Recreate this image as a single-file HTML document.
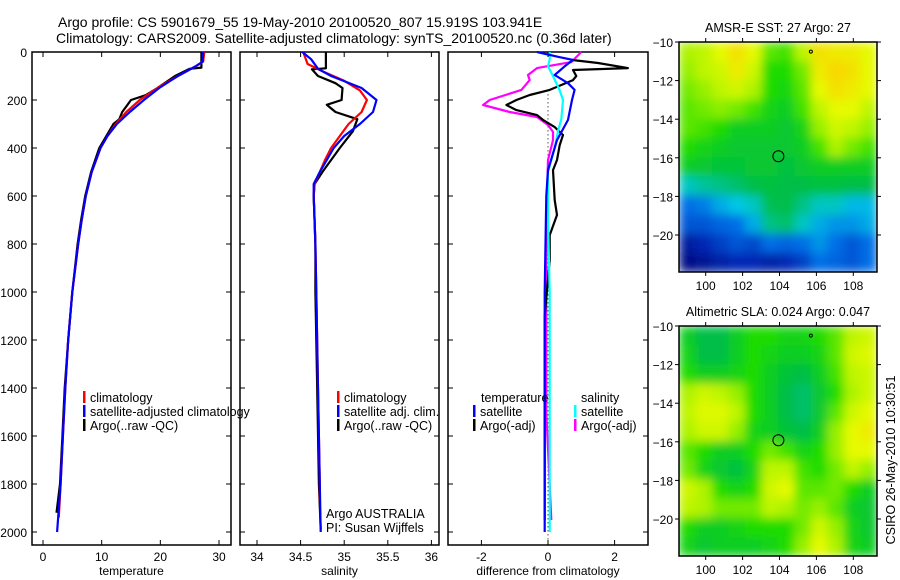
<!DOCTYPE html>
<html><head><meta charset="utf-8"><style>
body{margin:0;background:#fff;}
svg{display:block;font-family:"Liberation Sans",sans-serif;}
</style></head><body>
<svg id="fig" width="900" height="580" viewBox="0 0 900 580" xmlns="http://www.w3.org/2000/svg">
<defs>
<filter id="sm" x="0" y="0" width="1" height="1"><feGaussianBlur stdDeviation="5" edgeMode="duplicate"/></filter>
<clipPath id="c1"><rect x="679" y="42" width="198" height="230"/></clipPath>
<clipPath id="c2"><rect x="679" y="326" width="198" height="230"/></clipPath>
</defs>
<text x="58" y="27" font-size="14">Argo profile: CS 5901679_55 19-May-2010 20100520_807 15.919S 103.941E</text>
<text x="56" y="43" font-size="14">Climatology: CARS2009. Satellite-adjusted climatology: synTS_20100520.nc (0.36d later)</text>
<g id="g"></g>
</svg>
<script>
// ---- data ----
const tClimD=[0,40,60,100,150,200,250,300,350,400,500,600,700,800,1000,1200,1400,1600,1800,1940];
const tClimV=[27.5,27.3,26,23,19.5,16.5,14.2,12.4,11,9.8,8.3,7.3,6.6,6.0,5.0,4.3,3.8,3.4,3.0,2.7];
const tSatD=[0,40,60,100,150,200,250,300,350,400,500,600,700,800,1000,1200,1400,1600,1800,2000];
const tSatV=[27.3,27.2,26,23,19.8,17.2,14.8,12.6,11,9.8,8.3,7.3,6.6,6.0,5.0,4.3,3.8,3.4,3.0,2.4];
const tArgoD=[0,65,70,100,150,180,200,250,280,300,400,500,600,700,800,1000,1200,1400,1600,1800,1920];
const tArgoV=[27.0,27.0,25,22.5,19.5,17.5,15,13.5,13,12,9.6,8.2,7.2,6.5,5.9,5.0,4.3,3.7,3.3,2.9,2.3];
const sClimD=[0,50,80,120,160,200,250,300,350,400,450,500,550,600,700,800,1000,1400,1800,1870];
const sClimV=[34.53,34.58,34.75,35.0,35.18,35.26,35.2,35.05,34.95,34.85,34.78,34.72,34.66,34.65,34.66,34.67,34.68,34.7,34.72,34.72];
const sSatD=[0,30,70,100,150,200,250,300,350,400,450,500,550,600,800,1000,1400,1800,2000];
const sSatV=[34.52,34.62,34.7,34.85,35.2,35.37,35.33,35.18,35.0,34.88,34.8,34.72,34.65,34.65,34.67,34.68,34.7,34.72,34.73];
const sArgoD=[0,68,72,100,130,150,200,220,235,250,280,330,400,500,550,600,800,1000,1400,1800,1990];
const sArgoV=[34.79,34.79,34.63,34.7,34.9,34.98,34.97,34.8,34.85,34.9,35.15,35.1,34.95,34.75,34.66,34.65,34.67,34.67,34.69,34.71,34.73];
const dTSatD=[0,20,33,60,96,130,158,200,283,367,492,600,1000,1500,2000];
const dTSatV=[-0.33,0.3,0.75,0.5,0.2,0.6,0.8,0.72,0.6,0.27,0,-0.05,-0.1,-0.1,-0.1];
const dSSatD=[0,30,60,100,160,200,280,330,400,500,700,1000,2000];
const dSSatV=[0.05,0.05,0,0.15,0.35,0.45,0.4,0.3,0.2,0,0,0.05,0.05];
const dSArgoD=[0,42,67,96,117,158,200,221,250,271,304,333,367,450,700,1000,1500,1950];
const dSArgoV=[1.0,0.7,-0.33,-0.6,-0.55,-0.8,-1.75,-1.95,-1.15,-0.33,0,0.15,0.15,0,-0.05,-0.05,-0.05,0.1];
const dTArgoD=[33,46,67,75,100,117,158,179,200,221,242,263,283,313,346,388,450,492,617,679,763,867,1100,1400,1950];
const dTArgoV=[0.7,1.5,2.4,0.75,0.85,0.75,0.05,-0.55,-0.95,-1.25,-0.95,-0.33,-0.15,0.2,0.45,0.35,0.27,0.15,0.2,0.27,0.05,0.05,-0.1,-0.1,-0.1];
const depthTicks=[0,200,400,600,800,1000,1200,1400,1600,1800,2000];
const tempTicks=[0,10,20,30];
const salTicks=[34,34.5,35,35.5,36];
const diffTicks=[-2,0,2];
const lonTicks=[100,102,104,106,108];
const latTicks=[-10,-12,-14,-16,-18,-20];
const sstGrid=[
[0.78,0.8,0.85,0.9,0.85,0.7,0.68,0.8,0.9,0.88,0.88,0.85],
[0.75,0.8,0.82,0.88,0.82,0.65,0.65,0.72,0.88,0.92,0.9,0.85],
[0.72,0.75,0.8,0.82,0.78,0.65,0.63,0.7,0.85,0.9,0.88,0.85],
[0.7,0.72,0.74,0.72,0.68,0.62,0.6,0.68,0.8,0.85,0.85,0.8],
[0.7,0.68,0.65,0.6,0.6,0.6,0.58,0.62,0.75,0.82,0.8,0.75],
[0.65,0.62,0.6,0.58,0.58,0.58,0.58,0.6,0.68,0.78,0.72,0.68],
[0.6,0.58,0.57,0.57,0.58,0.58,0.56,0.58,0.6,0.6,0.6,0.6],
[0.45,0.48,0.5,0.52,0.55,0.56,0.55,0.55,0.56,0.56,0.55,0.55],
[0.3,0.32,0.38,0.42,0.45,0.54,0.55,0.5,0.45,0.45,0.4,0.4],
[0.25,0.25,0.28,0.3,0.38,0.5,0.52,0.45,0.38,0.35,0.35,0.38],
[0.1,0.15,0.2,0.25,0.22,0.3,0.28,0.3,0.35,0.3,0.25,0.3],
[0.05,0.08,0.12,0.15,0.15,0.12,0.15,0.2,0.3,0.28,0.25,0.3]];
const slaGrid=[
[0.6,0.55,0.55,0.6,0.65,0.65,0.62,0.62,0.65,0.7,0.8,0.82],
[0.62,0.55,0.55,0.6,0.65,0.62,0.6,0.6,0.62,0.7,0.82,0.84],
[0.65,0.6,0.6,0.62,0.65,0.6,0.57,0.55,0.6,0.68,0.8,0.82],
[0.78,0.82,0.8,0.75,0.65,0.6,0.55,0.52,0.58,0.65,0.78,0.82],
[0.8,0.84,0.84,0.8,0.65,0.6,0.55,0.52,0.58,0.7,0.82,0.85],
[0.78,0.82,0.82,0.75,0.62,0.6,0.57,0.55,0.6,0.75,0.85,0.88],
[0.7,0.65,0.6,0.6,0.65,0.72,0.68,0.62,0.65,0.75,0.85,0.85],
[0.72,0.62,0.58,0.56,0.62,0.8,0.8,0.68,0.65,0.72,0.8,0.75],
[0.82,0.78,0.65,0.62,0.65,0.82,0.85,0.7,0.7,0.72,0.65,0.6],
[0.8,0.78,0.72,0.72,0.72,0.8,0.78,0.72,0.75,0.7,0.6,0.58],
[0.65,0.6,0.6,0.62,0.65,0.65,0.65,0.72,0.82,0.75,0.62,0.58],
[0.62,0.58,0.6,0.6,0.6,0.62,0.65,0.75,0.85,0.78,0.62,0.6]];

// ---- drawing ----
const NS='http://www.w3.org/2000/svg';
const G=document.getElementById('g');
function mk(tag,attrs,parent){const e=document.createElementNS(NS,tag);for(const k in attrs)e.setAttribute(k,attrs[k]);(parent||G).appendChild(e);return e;}
function txt(s,x,y,anchor,size,parent){const t=mk('text',{x:x,y:y,'text-anchor':anchor||'start','font-size':size||12},parent);t.textContent=s;return t;}
const yD=d=>52+d*0.24;
const xT=v=>43+v*5.867;
const xS=v=>257+(v-34)*87.2;
const xDf=v=>548+v*33.3;
function panel(x0,x1,name,xTicks,xf,xlab,showY){
  const r=mk('rect',{x:x0,y:52,width:x1-x0,height:493,fill:'none',stroke:'#000','stroke-width':1.5});
  
  
  depthTicks.forEach(d=>{mk('line',{x1:x0,x2:x0+5,y1:yD(d),y2:yD(d),stroke:'#000'});mk('line',{x1:x1-5,x2:x1,y1:yD(d),y2:yD(d),stroke:'#000'});
    if(showY){const t=txt(String(d),27,yD(d)+5,'end',12);}});
  xTicks.forEach(v=>{const x=xf(v);mk('line',{x1:x,x2:x,y1:545,y2:540,stroke:'#000'});mk('line',{x1:x,x2:x,y1:52,y2:57,stroke:'#000'});
    const t=txt(String(v),x,561,'middle',12);});
  const l=txt(xlab,(x0+x1)/2,575,'middle',12);
}
function line(D,V,xf,col,name,w){
  const p=D.map((d,i)=>xf(V[i]).toFixed(1)+','+yD(d).toFixed(1)).join(' ');
  const e=mk('polyline',{points:p,fill:'none',stroke:col,'stroke-width':w||2.2,'stroke-linejoin':'round'});
  
  
}
panel(32,231,'temperature-panel',tempTicks,xT,'temperature',true);
panel(240,439,'salinity-panel',salTicks,xS,'salinity',false);
panel(448,648,'difference-panel',diffTicks,xDf,'difference from climatology',false);
line(tArgoD,tArgoV,xT,'#000','temp-argo-line');
line(tClimD,tClimV,xT,'#f00','temp-climatology-line');
line(tSatD,tSatV,xT,'#00f','temp-satellite-line');
line(sArgoD,sArgoV,xS,'#000','sal-argo-line');
line(sClimD,sClimV,xS,'#f00','sal-climatology-line');
line(sSatD,sSatV,xS,'#00f','sal-satellite-line');
mk('line',{x1:548,x2:548,y1:yD(160),y2:541,stroke:'#000','stroke-dasharray':'1,3'});
line(dSArgoD,dSArgoV,xDf,'#f0f','diff-sal-argo-line');
line(dTArgoD,dTArgoV,xDf,'#000','diff-temp-argo-line');
line(dSSatD,dSSatV,xDf,'#0ff','diff-sal-satellite-line');
line(dTSatD,dTSatV,xDf,'#00f','diff-temp-satellite-line');
function leg(x,y,col,label,name){
  if(col){mk('rect',{x:x,y:y-11,width:2.5,height:12,fill:col});}
  const t=txt(label,x+7,y,'start',12.5);
  
  
}
leg(83,402,'#f00','climatology','legend-climatology');
leg(83,416,'#00f','satellite-adjusted climatology','legend-satellite-adjusted');
leg(83,430,'#000','Argo(..raw -QC)','legend-argo');
leg(337,402,'#f00','climatology','legend-sal-climatology');
leg(337,416,'#00f','satellite adj. clim.','legend-sal-satellite');
leg(337,430,'#000','Argo(..raw -QC)','legend-sal-argo');
leg(319,518,null,'Argo AUSTRALIA','argo-australia-label');
leg(319,532,null,'PI: Susan Wijffels','pi-label');
leg(474,402,null,'temperature','legend-temperature-header');
leg(473,416,'#00f','satellite','legend-diff-temp-satellite');
leg(473,430,'#000','Argo(-adj)','legend-diff-temp-argo');
leg(574,402,null,'salinity','legend-salinity-header');
leg(574,416,'#0ff','satellite','legend-diff-sal-satellite');
leg(574,430,'#f0f','Argo(-adj)','legend-diff-sal-argo');
// maps
const stops=[[0,[0,0,110]],[0.15,[0,40,180]],[0.3,[0,110,230]],[0.42,[0,200,230]],[0.55,[0,190,70]],[0.65,[30,220,0]],[0.75,[150,240,0]],[0.85,[230,250,0]],[0.95,[255,200,0]],[1,[255,170,0]]];
function cmap(v){for(let i=1;i<stops.length;i++){if(v<=stops[i][0]){const a=stops[i-1],b=stops[i],t=(v-a[0])/(b[0]-a[0]);return 'rgb('+a[1].map((c,k)=>Math.round(c+(b[1][k]-c)*t)).join(',')+')';}}return 'rgb(255,170,0)';}
function map(top,grid,name,title,clip){
  const x0=679,x1=877,y1=top+230;
  const lonX=l=>705.7+(l-100)*18.45, latY=l=>top+(-10-l)*19.3;
  const rows=grid.length,cols=grid[0].length,cw=(x1-x0)/cols,ch=(y1-top)/rows;
  const cg=mk('g',{'clip-path':'url(#'+clip+')'});
  const bg=mk('g',{filter:'url(#sm)'},cg);
  grid.forEach((row,r)=>row.forEach((v,c)=>{const e=mk('rect',{x:x0+c*cw,y:top+r*ch,width:cw+0.6,height:ch+0.6,fill:cmap(v)},bg);
    
    }));
  const f=mk('rect',{x:x0,y:top,width:x1-x0,height:230,fill:'none',stroke:'#000','stroke-width':1.5});
  
  
  lonTicks.forEach(l=>{const x=lonX(l);mk('line',{x1:x,x2:x,y1:top,y2:top-4,stroke:'#000'});mk('line',{x1:x,x2:x,y1:y1,y2:y1+4,stroke:'#000'});
    const t=txt(String(l),x,y1+18,'middle',12);});
  latTicks.forEach(l=>{const y=latY(l);mk('line',{x1:x0,x2:x0-4,y1:y,y2:y,stroke:'#000'});mk('line',{x1:x1,x2:x1+4,y1:y,y2:y,stroke:'#000'});
    const t=txt(String(l).replace('-','\u2212'),673,y+5,'end',12);});
  const c=mk('circle',{cx:lonX(103.94),cy:latY(-15.92),r:5.5,fill:'none',stroke:'#000'});
  
  
  mk('circle',{cx:lonX(105.7),cy:latY(-10.5),r:1.5,fill:'none',stroke:'#000'});
  const t=txt(title,778,top-10,'middle',12.5);
  
  
}
map(42,sstGrid,'sst-map','AMSR-E SST: 27 Argo: 27','c1');
map(326,slaGrid,'sla-map','Altimetric SLA: 0.024  Argo: 0.047','c2');
const cs=txt('CSIRO 26-May-2010 10:30:51',0,0,'middle',12.5);
cs.setAttribute('transform','translate(895,460) rotate(-90)');


</script>
</body></html>
